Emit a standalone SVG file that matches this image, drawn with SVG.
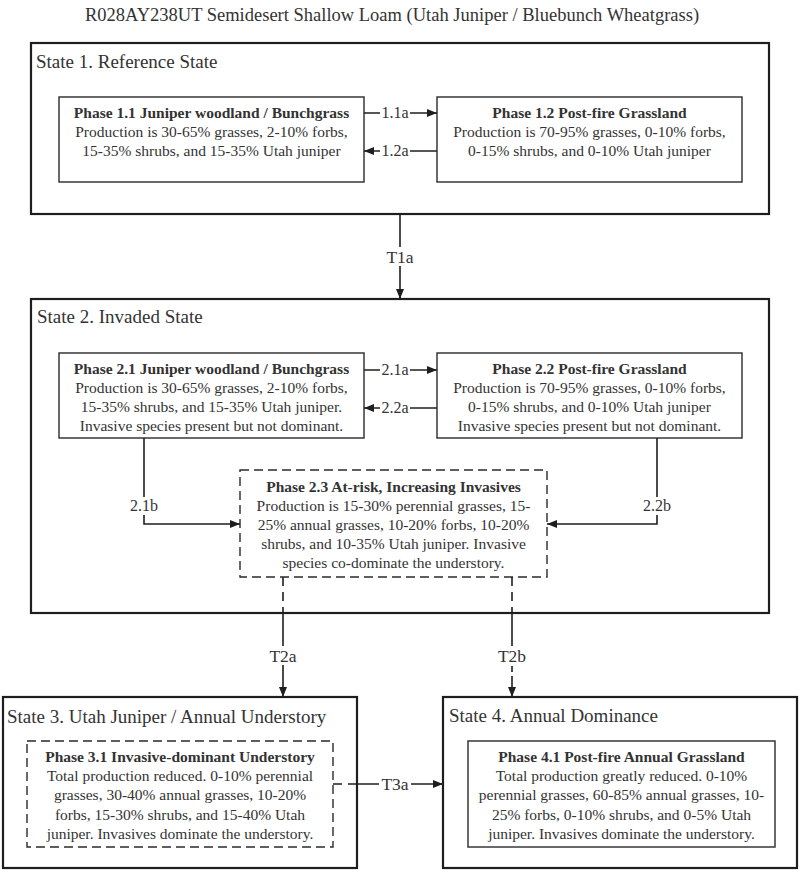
<svg xmlns="http://www.w3.org/2000/svg" width="800" height="871" viewBox="0 0 800 871">
<defs>
<marker id="ah" markerUnits="userSpaceOnUse" markerWidth="11" markerHeight="9" refX="10" refY="4" orient="auto">
<path d="M0,0 L10,4 L0,8 z" fill="#1e1e1e"/>
</marker>
<style>
text{font-family:"Liberation Serif","Times New Roman",serif;fill:#333}
.title{font-size:18.5px}
.st{font-size:19px}
.ph{font-size:15.5px;text-anchor:middle}
.b{font-weight:bold}
.state{fill:#fff;stroke:#1e1e1e;stroke-width:2.2}
.phase{fill:#fff;stroke:#2a2a2a;stroke-width:1.4}
.dash{fill:#fff;stroke:#2a2a2a;stroke-width:1.4;stroke-dasharray:9,5}
.con{fill:none;stroke:#1e1e1e;stroke-width:1.6}
.cond{fill:none;stroke:#1e1e1e;stroke-width:1.6;stroke-dasharray:9,6}
.bg{fill:#fff;stroke:none}
.lbl{font-size:16px;text-anchor:middle}
.tl{font-size:17.5px;text-anchor:middle}
</style>
</defs>
<rect width="800" height="871" fill="#fff"/>
<text class="title" x="392" y="21" text-anchor="middle">R028AY238UT Semidesert Shallow Loam (Utah Juniper / Bluebunch Wheatgrass)</text>

<g id="state1">
<rect class="state" x="31" y="43" width="738" height="171"/>
<text class="st" x="36" y="68">State 1. Reference State</text>
</g>
<g id="phase11">
<rect class="phase" x="59" y="97" width="305" height="85"/>
<text class="ph b" x="211.5" y="118">Phase 1.1 Juniper woodland / Bunchgrass</text>
<text class="ph" x="211.5" y="137">Production is 30-65% grasses, 2-10% forbs,</text>
<text class="ph" x="211.5" y="156">15-35% shrubs, and 15-35% Utah juniper</text>
</g>
<g id="phase12">
<rect class="phase" x="437" y="97" width="305" height="85"/>
<text class="ph b" x="589.5" y="118">Phase 1.2 Post-fire Grassland</text>
<text class="ph" x="589.5" y="137">Production is 70-95% grasses, 0-10% forbs,</text>
<text class="ph" x="589.5" y="156">0-15% shrubs, and 0-10% Utah juniper</text>
</g>

<g id="state2">
<rect class="state" x="31" y="299" width="738" height="314"/>
<text class="st" x="37" y="323">State 2. Invaded State</text>
</g>
<g id="phase21">
<rect class="phase" x="59" y="353" width="305" height="85"/>
<text class="ph b" x="211.5" y="374">Phase 2.1 Juniper woodland / Bunchgrass</text>
<text class="ph" x="211.5" y="393">Production is 30-65% grasses, 2-10% forbs,</text>
<text class="ph" x="211.5" y="412">15-35% shrubs, and 15-35% Utah juniper.</text>
<text class="ph" x="211.5" y="431">Invasive species present but not dominant.</text>
</g>
<g id="phase22">
<rect class="phase" x="437" y="353" width="305" height="85"/>
<text class="ph b" x="589.5" y="374">Phase 2.2 Post-fire Grassland</text>
<text class="ph" x="589.5" y="393">Production is 70-95% grasses, 0-10% forbs,</text>
<text class="ph" x="589.5" y="412">0-15% shrubs, and 0-10% Utah juniper</text>
<text class="ph" x="589.5" y="431">Invasive species present but not dominant.</text>
</g>
<g id="phase23">
<rect class="dash" x="240" y="470" width="307" height="107"/>
<text class="ph b" x="393.5" y="492">Phase 2.3 At-risk, Increasing Invasives</text>
<text class="ph" x="393.5" y="511">Production is 15-30% perennial grasses, 15-</text>
<text class="ph" x="393.5" y="530">25% annual grasses, 10-20% forbs, 10-20%</text>
<text class="ph" x="393.5" y="549">shrubs, and 10-35% Utah juniper. Invasive</text>
<text class="ph" x="393.5" y="568">species co-dominate the understory.</text>
</g>

<g id="state3">
<rect class="state" x="3" y="697" width="354" height="171"/>
<text class="st" x="7" y="723">State 3. Utah Juniper / Annual Understory</text>
</g>
<g id="phase31">
<rect class="dash" x="27" y="741" width="306" height="106"/>
<text class="ph b" x="180" y="762">Phase 3.1 Invasive-dominant Understory</text>
<text class="ph" x="180" y="781">Total production reduced. 0-10% perennial</text>
<text class="ph" x="180" y="800">grasses, 30-40% annual grasses, 10-20%</text>
<text class="ph" x="180" y="820">forbs, 15-30% shrubs, and 15-40% Utah</text>
<text class="ph" x="180" y="839">juniper. Invasives dominate the understory.</text>
</g>

<g id="state4">
<rect class="state" x="443" y="697" width="354" height="171"/>
<text class="st" x="449" y="722">State 4. Annual Dominance</text>
</g>
<g id="phase41">
<rect class="phase" x="468" y="741" width="307" height="106"/>
<text class="ph b" x="621.5" y="762">Phase 4.1 Post-fire Annual Grassland</text>
<text class="ph" x="621.5" y="781">Total production greatly reduced. 0-10%</text>
<text class="ph" x="621.5" y="800">perennial grasses, 60-85% annual grasses, 10-</text>
<text class="ph" x="621.5" y="820">25% forbs, 0-10% shrubs, and 0-5% Utah</text>
<text class="ph" x="621.5" y="839">juniper. Invasives dominate the understory.</text>
</g>

<g id="connectors">
<path class="con" d="M364,113 H437" marker-end="url(#ah)"/>
<rect class="bg" x="380" y="105" width="30" height="16"/>
<text class="lbl" x="395" y="118">1.1a</text>
<path class="con" d="M437,151 H364" marker-end="url(#ah)"/>
<rect class="bg" x="380" y="143" width="30" height="16"/>
<text class="lbl" x="395" y="156">1.2a</text>

<path class="con" d="M400,214 V299" marker-end="url(#ah)"/>
<rect class="bg" x="385" y="247" width="30" height="19"/>
<text class="tl" x="400" y="263">T1a</text>

<path class="con" d="M364,370 H437" marker-end="url(#ah)"/>
<rect class="bg" x="380" y="362" width="30" height="16"/>
<text class="lbl" x="395" y="375">2.1a</text>
<path class="con" d="M437,408 H364" marker-end="url(#ah)"/>
<rect class="bg" x="380" y="400" width="30" height="16"/>
<text class="lbl" x="395" y="413">2.2a</text>

<path class="con" d="M144,438 V524 H240" marker-end="url(#ah)"/>
<rect class="bg" x="128" y="497" width="32" height="18"/>
<text class="lbl" x="144" y="511">2.1b</text>
<path class="con" d="M657,438 V524 H547" marker-end="url(#ah)"/>
<rect class="bg" x="641" y="497" width="32" height="18"/>
<text class="lbl" x="657" y="511">2.2b</text>

<path class="cond" d="M283,577 V613"/>
<path class="con" d="M283,613 V697" marker-end="url(#ah)"/>
<rect class="bg" x="266" y="646" width="34" height="19"/>
<text class="tl" x="283" y="662">T2a</text>

<path class="cond" d="M512,577 V613"/>
<path class="con" d="M512,613 V664"/>
<path class="cond" d="M512,666 V682" style="stroke-dasharray:6,4"/>
<path class="con" d="M512,682 V697" marker-end="url(#ah)"/>
<rect class="bg" x="495" y="646" width="34" height="19"/>
<text class="tl" x="512" y="662">T2b</text>

<path class="cond" d="M333,784 H357"/>
<path class="con" d="M357,784 H443" marker-end="url(#ah)"/>
<rect class="bg" x="379" y="775" width="32" height="19"/>
<text class="tl" x="395" y="790">T3a</text>
</g>
</svg>
